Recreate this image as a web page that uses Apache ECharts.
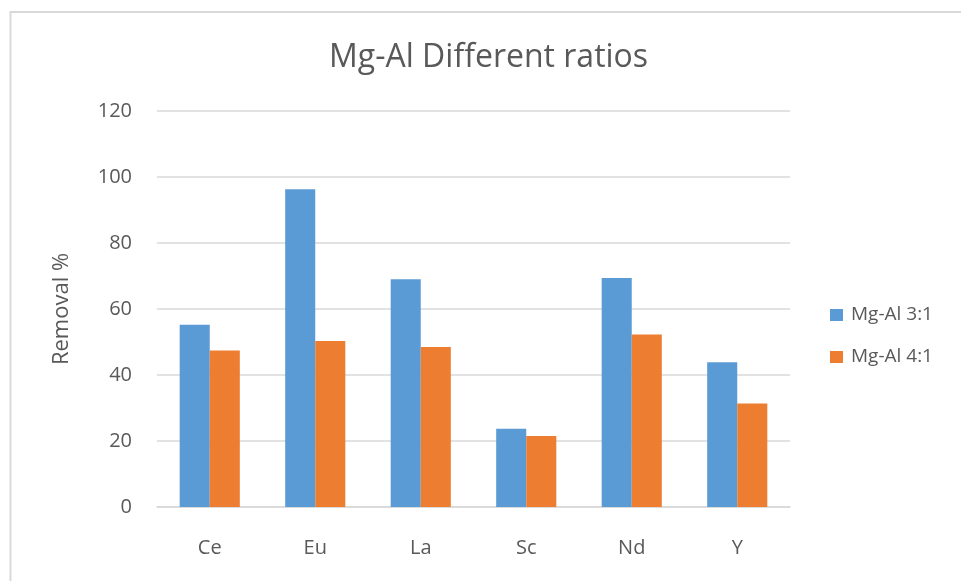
<!DOCTYPE html>
<html><head><meta charset="utf-8">
<script src="https://cdn.jsdelivr.net/npm/echarts@6/dist/echarts.min.js"></script>
<style>html,body{margin:0;padding:0;background:#fff}#c{width:961px;height:581px}</style>
</head><body><div id="c"></div>
<script>
var categories = ['Ce', 'Eu', 'La', 'Sc', 'Nd', 'Y'];
var seriesNames = ['Mg-Al 3:1', 'Mg-Al 4:1'];
var ratio31 = [55.2, 96.3, 69.0, 23.7, 69.4, 43.9];
var ratio41 = [47.4, 50.3, 48.5, 21.5, 52.3, 31.4];
var colors = ['#5B9BD5', '#ED7D31'];
var FONT = '"Open Sans", "Noto Sans", sans-serif';

var chart = echarts.init(document.getElementById('c'));
chart.setOption({
  animation: false,
  color: colors,
  textStyle: { fontFamily: FONT },
  graphic: [{
    type: 'rect', silent: true,
    shape: { x: 10.5, y: 12, width: 1000, height: 1000 },
    style: { fill: 'none', stroke: '#d9d9d9', lineWidth: 2 }
  }],
  title: {
    text: 'Mg-Al Different ratios',
    left: 324, top: 37,
    textStyle: { fontFamily: FONT, fontSize: 32, fontWeight: 'normal', color: '#595959' }
  },
  legend: {
    orient: 'vertical', left: 825, top: 300,
    itemWidth: 13, itemHeight: 12, itemGap: 22,
    icon: 'rect',
    textStyle: { fontFamily: FONT, fontSize: 19, lineHeight: 20, color: '#595959', padding: [0, 0, 0, 3] },
    data: seriesNames
  },
  grid: { left: 157, right: 171, top: 111, bottom: 74, containLabel: false },
  xAxis: {
    type: 'category', data: categories,
    axisLine: { lineStyle: { color: '#d9d9d9', width: 1.5 } },
    axisTick: { show: false },
    axisLabel: { fontFamily: FONT, fontSize: 20, color: '#595959', margin: 31 }
  },
  yAxis: {
    type: 'value', min: 0, max: 120, interval: 20,
    name: 'Removal %', nameLocation: 'middle', nameGap: 84, nameRotate: 90,
    nameTextStyle: { fontFamily: FONT, fontSize: 22, color: '#595959' },
    axisLine: { show: false }, axisTick: { show: false },
    axisLabel: { fontFamily: FONT, fontSize: 20, color: '#595959', margin: 25 },
    splitLine: { lineStyle: { color: '#d9d9d9', width: 1.5 } }
  },
  series: [
    { name: seriesNames[0], type: 'bar', data: ratio31, barGap: '0%', barCategoryGap: '43%',
      itemStyle: { color: colors[0] } },
    { name: seriesNames[1], type: 'bar', data: ratio41, barGap: '0%', barCategoryGap: '43%',
      itemStyle: { color: colors[1] } }
  ]
});
</script></body></html>
